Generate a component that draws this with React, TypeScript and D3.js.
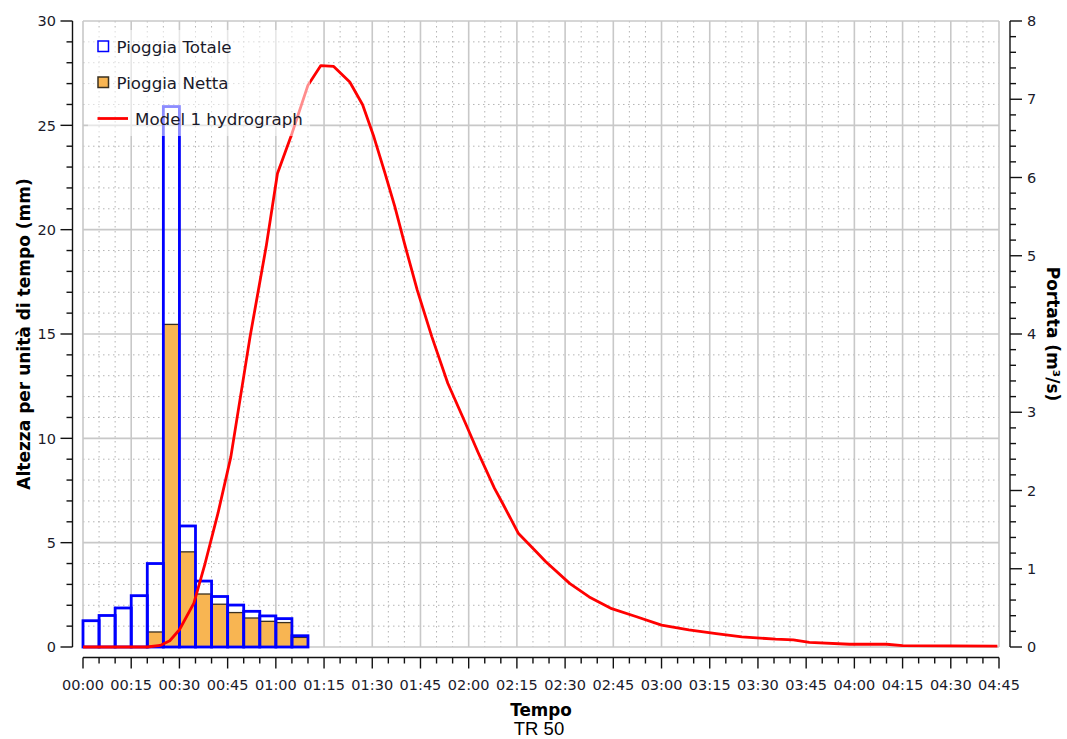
import React from "react";
import * as d3 from "d3";

// ---- Data ----
const barStartMin = [0, 5, 10, 15, 20, 25, 30, 35, 40, 45, 50, 55, 60, 65];
const pioggiaTotale = [1.26, 1.51, 1.87, 2.46, 4.0, 25.9, 5.8, 3.16, 2.42, 2.01, 1.71, 1.49, 1.36, 0.54];
const pioggiaNetta = [0, 0, 0, 0, 0.72, 15.46, 4.56, 2.54, 2.05, 1.65, 1.39, 1.23, 1.17, 0.46];

const hydroTimeMin = [
  0, 5, 10, 15, 20, 24, 27, 30, 34.5, 38, 42, 46, 52, 57, 60.5, 65, 70, 74, 78, 83, 87, 90.5, 94, 97, 100,
  104, 108.5, 113.5, 119, 123, 128, 130.5, 135.5, 140.5, 144, 151.5, 157.5, 164.5, 172, 180, 188.5, 197,
  205, 215.5, 221, 226, 238.5, 250, 255, 284.5,
];
const hydroQ = [
  0, 0, 0, 0, 0, 0.02, 0.08, 0.22, 0.56, 1.07, 1.71, 2.43, 3.97, 5.12, 6.05, 6.56, 7.18, 7.43, 7.42, 7.22,
  6.93, 6.52, 6.05, 5.63, 5.16, 4.56, 3.97, 3.37, 2.86, 2.48, 2.03, 1.84, 1.45, 1.24, 1.09, 0.81, 0.64, 0.49,
  0.39, 0.28, 0.22, 0.17, 0.13, 0.1, 0.09, 0.06, 0.035, 0.035, 0.017, 0.012,
];

const timeTicks = d3.range(0, 286, 15);
const leftTicks = [0, 5, 10, 15, 20, 25, 30];
const rightTicks = [0, 1, 2, 3, 4, 5, 6, 7, 8];

const legendLabels = ["Pioggia Totale", "Pioggia Netta", "Model 1 hydrograph"];
const xTitle = "Tempo";
const subTitle = "TR 50";
const yLeftTitle = "Altezza per unità di tempo (mm)";
const yRightTitle = "Portata (m³/s)";

// ---- Layout ----
const W = 1067;
const H = 739;
const plotL = 83;
const plotR = 999;
const plotT = 21;
const plotB = 647;
const leftAxisX = 72.5;
const rightAxisX = 1010;
const bottomAxisY = 657.5;

const BLUE = "#0000ff";
const ORANGE = "#f8b552";
const RED = "#ff0000";
const GRID = "#c8c8c8";
const DOT = "#b4b4b4";
const TXT = "#1a1a2a";
const FONT = "'DejaVu Sans', Verdana, sans-serif";

function fmt(m: number) {
  const h = Math.floor(m / 60);
  const mm = m % 60;
  return `${String(h).padStart(2, "0")}:${String(mm).padStart(2, "0")}`;
}

export default function App() {
  const x = d3.scaleLinear().domain([0, 285]).range([plotL, plotR]);
  const yL = d3.scaleLinear().domain([0, 30]).range([plotB, plotT]);
  const yR = d3.scaleLinear().domain([0, 8]).range([plotB, plotT]);

  const line = d3
    .line<number>()
    .x((_, i) => x(hydroTimeMin[i]))
    .y((q) => yR(q));

  const minorX = d3.range(0, 286, 5);
  const minorYL = d3.range(0, 31, 1);
  const minorYR = d3.range(0, 8.01, 0.2);

  return (
    <svg
      width={W}
      height={H}
      style={{ position: "absolute", left: 0, top: 0, background: "#fff" }}
      fontFamily={FONT}
    >
      <rect x={0} y={0} width={W} height={H} fill="#fff" />
      {/* dotted grid */}
      <g stroke={DOT} strokeWidth={1} strokeDasharray="1.5,3.5">
        {minorX
          .filter((m) => m % 15 !== 0)
          .map((m) => (
            <line key={"vx" + m} x1={x(m)} x2={x(m)} y1={plotT} y2={plotB} />
          ))}
        {minorYL
          .filter((v) => v % 5 !== 0)
          .map((v) => (
            <line key={"hy" + v} x1={plotL} x2={plotR} y1={yL(v)} y2={yL(v)} />
          ))}
      </g>
      {/* solid grid */}
      <g stroke={GRID} strokeWidth={1.6}>
        {timeTicks.map((m) => (
          <line key={"gx" + m} x1={x(m)} x2={x(m)} y1={plotT} y2={plotB} />
        ))}
        {leftTicks.map((v) => (
          <line key={"gy" + v} x1={plotL} x2={plotR} y1={yL(v)} y2={yL(v)} />
        ))}
      </g>

      {/* Pioggia Netta */}
      <g>
        {barStartMin.map((m, i) =>
          pioggiaNetta[i] > 0 ? (
            <rect
              key={"n" + i}
              x={x(m)}
              y={yL(pioggiaNetta[i])}
              width={x(m + 5) - x(m)}
              height={yL(0) - yL(pioggiaNetta[i])}
              fill={ORANGE}
              stroke="#3a3020"
              strokeWidth={1.3}
            />
          ) : null
        )}
      </g>
      {/* Pioggia Totale */}
      <g>
        {barStartMin.map((m, i) => (
          <rect
            key={"t" + i}
            x={x(m)}
            y={yL(pioggiaTotale[i])}
            width={x(m + 5) - x(m)}
            height={yL(0) - yL(pioggiaTotale[i])}
            fill="none"
            stroke={BLUE}
            strokeWidth={2.8}
          />
        ))}
      </g>
      {/* Hydrograph */}
      <path d={line(hydroQ) || ""} fill="none" stroke={RED} strokeWidth={2.8} strokeLinejoin="round" />

      {/* Left axis */}
      <g stroke="#111" strokeWidth={1.4}>
        <line x1={leftAxisX} x2={leftAxisX} y1={plotT} y2={plotB} />
        {minorYL.map((v) => (
          <line
            key={"lt" + v}
            x1={leftAxisX - (v % 5 === 0 ? 12 : 6)}
            x2={leftAxisX}
            y1={yL(v)}
            y2={yL(v)}
          />
        ))}
      </g>
      <g fontSize={14.5} fill={TXT} textAnchor="end">
        {leftTicks.map((v) => (
          <text key={"ll" + v} x={56} y={yL(v)} dy="0.36em">
            {v}
          </text>
        ))}
      </g>

      {/* Right axis */}
      <g stroke="#111" strokeWidth={1.4}>
        <line x1={rightAxisX} x2={rightAxisX} y1={plotT} y2={plotB} />
        {minorYR.map((v, i) => (
          <line
            key={"rt" + i}
            x1={rightAxisX}
            x2={rightAxisX + (i % 5 === 0 ? 12 : 6)}
            y1={yR(v)}
            y2={yR(v)}
          />
        ))}
      </g>
      <g fontSize={14.5} fill={TXT} textAnchor="start">
        {rightTicks.map((v) => (
          <text key={"rl" + v} x={1027} y={yR(v)} dy="0.36em">
            {v}
          </text>
        ))}
      </g>

      {/* Bottom axis */}
      <g stroke="#111" strokeWidth={1.4}>
        <line x1={plotL} x2={plotR} y1={bottomAxisY} y2={bottomAxisY} />
        {minorX.map((m) => (
          <line
            key={"bt" + m}
            x1={x(m)}
            x2={x(m)}
            y1={bottomAxisY}
            y2={bottomAxisY + (m % 15 === 0 ? 11 : 6)}
          />
        ))}
      </g>
      <g fontSize={14.5} fill={TXT} textAnchor="middle">
        {timeTicks.map((m) => (
          <text key={"bl" + m} x={x(m)} y={690}>
            {fmt(m)}
          </text>
        ))}
      </g>

      {/* Titles */}
      <text x={(plotL + plotR) / 2} y={716} textAnchor="middle" fontWeight="bold" fontSize={16.8} fill="#000">
        {xTitle}
      </text>
      <text
        x={(plotL + plotR) / 2 - 2}
        y={735}
        textAnchor="middle"
        fontSize={18.5}
        fontFamily="'Liberation Sans', Arial, sans-serif"
        fill="#000"
      >
        {subTitle}
      </text>
      <text
        transform={`translate(30, ${(plotT + plotB) / 2}) rotate(-90)`}
        textAnchor="middle"
        fontWeight="bold"
        fontSize={17}
        fill="#000"
      >
        {yLeftTitle}
      </text>
      <text
        transform={`translate(1047, ${(plotT + plotB) / 2}) rotate(90)`}
        textAnchor="middle"
        fontWeight="bold"
        fontSize={17}
        fill="#000"
      >
        {yRightTitle}
      </text>

      {/* Legend */}
      <rect x={88} y={30} width={222} height={106} fill="#fff" fillOpacity={0.55} />
      <g fontSize={16.7} fill={TXT}>
        <rect x={98} y={41} width={10.5} height={10.5} fill="#fff" stroke={BLUE} strokeWidth={1.5} />
        <text x={116.5} y={47} dy="0.36em">
          {legendLabels[0]}
        </text>
        <rect x={98} y={77} width={10.5} height={10.5} fill={ORANGE} stroke="#3a3020" strokeWidth={1.5} />
        <text x={116.5} y={83} dy="0.36em">
          {legendLabels[1]}
        </text>
        <line x1={97.5} x2={128} y1={118.5} y2={118.5} stroke={RED} strokeWidth={2.8} />
        <text x={135} y={119} dy="0.36em">
          {legendLabels[2]}
        </text>
      </g>
    </svg>
  );
}
